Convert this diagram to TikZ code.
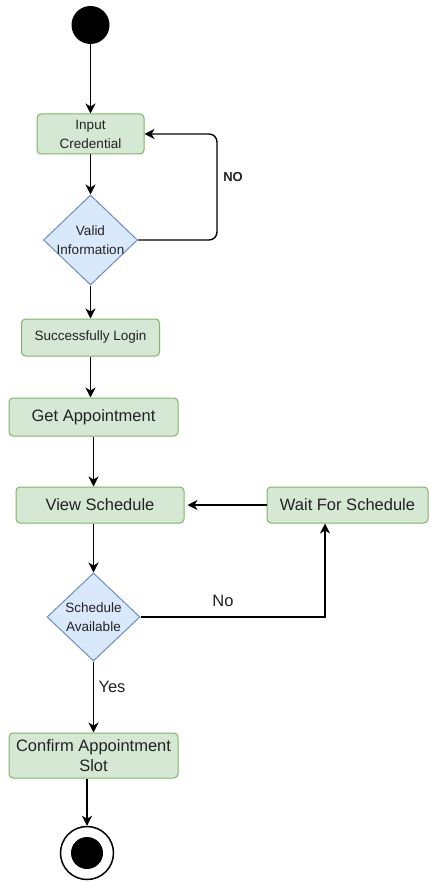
\documentclass[tikz,border=0pt]{standalone}
\usepackage{fontspec}
\setmainfont{Liberation Sans}
\usetikzlibrary{shapes.geometric,arrows.meta}
\definecolor{actfill}{HTML}{D5E8D4}
\definecolor{actline}{HTML}{82B366}
\definecolor{decfill}{HTML}{DAE8FC}
\definecolor{decline}{HTML}{6C8EBF}
\definecolor{ink}{HTML}{222222}

\begin{document}
\begin{tikzpicture}[x=1pt,y=-1pt,
  act/.style={rectangle, rounded corners=4pt, draw=actline, fill=actfill,
    line width=1pt, inner sep=0pt, align=center, text=ink},
  small/.style={font=\fontsize{13.5}{19}\selectfont},
  big/.style={font=\fontsize{16.5}{19.5}\selectfont},
  decision/.style={diamond, draw=decline, fill=decfill, line width=1pt, inner sep=0pt},
  flow/.style={line width=1.4pt, draw=black, -{Stealth[length=10pt,width=10pt,inset=3pt]}},
  lbl/.style={text=ink, inner sep=0pt}
]
\useasboundingbox[fill=white] (0,0) rectangle (430,882);

% start and end states
\node[circle, fill=black, minimum size=38pt, inner sep=0pt] (start) at (90.5,25) {};
\node[circle, draw=black, fill=white, line width=1.5pt, minimum size=53pt, inner sep=0pt] (endc) at (87,853) {};
\node[circle, fill=black, minimum size=32pt, inner sep=0pt] (endin) at (endc) {};

% login part
\node[act, small, minimum width=107pt, minimum height=40pt] (input) at (90.5,134) {Input\\Credential};
\node[decision, minimum width=94pt, minimum height=90pt,
  label={[lbl, small, align=center]center:Valid\\Information}] (valid) at (90.5,240) {};
\node[act, small, minimum width=138pt, minimum height=37pt] (login) at (90.5,337.5) {Successfully Login};

% appointment part
\node[act, big, minimum width=169pt, minimum height=38pt] (getapp) at (93.5,417) {Get Appointment};
\node[act, big, minimum width=168pt, minimum height=36pt] (view) at (100,505) {View Schedule};
\node[act, big, minimum width=161pt, minimum height=36pt] (wait) at (347.5,505) {Wait For Schedule};
\node[decision, minimum width=93pt, minimum height=88pt,
  label={[lbl, small, align=center]center:Schedule\\Available}] (avail) at (93.5,617) {};
\node[act, big, minimum width=169pt, minimum height=45pt] (confirm) at (93.5,755.5) {Confirm Appointment\\Slot};

\coordinate (loopx) at (217,0);

% connectors
\draw[flow] (start) -- (input);
\draw[flow] (input) -- (valid);
\draw[flow, rounded corners=8pt] (valid.east) -| (loopx |- input.east) -- (input.east);
\node[lbl, font=\bfseries\fontsize{13}{15}\selectfont] (nolbl) at (233,177) {NO};
\draw[flow] (valid) -- (login);
\draw[flow] (login) -- (login |- getapp.north);
\draw[flow] (getapp) -- (getapp |- view.north);
\draw[flow, shorten >=3pt] (wait.west) -- (view.east);
\draw[flow] (view.south -| avail) -- (avail.north);
\draw[flow] (avail.east) -| ([xshift=-22.5pt]wait.south);
\node[lbl, big] (nolbl2) at (223,601) {No};
\draw[flow] (avail) -- (confirm);
\node[lbl, big] (yeslbl) at (112,687) {Yes};
\draw[flow] (confirm.south -| endc) -- (endc.north);
\end{tikzpicture}
\end{document}
